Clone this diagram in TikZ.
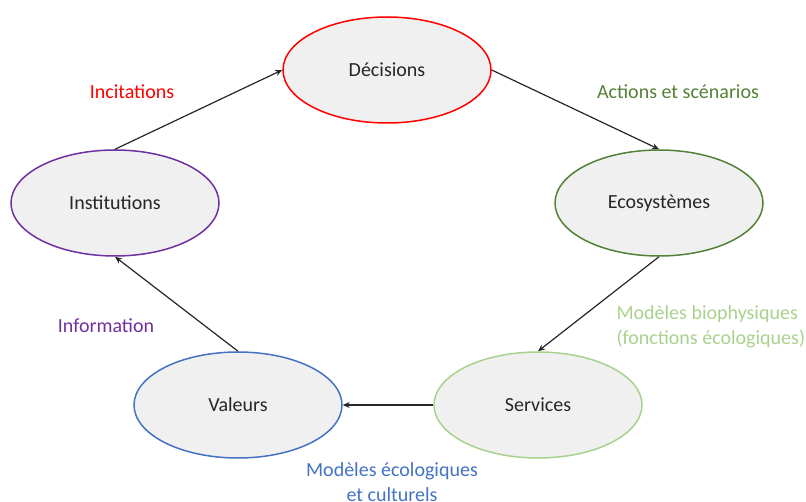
\documentclass[tikz,border=0pt]{standalone}
\usepackage{fontspec}
\setmainfont{Carlito}
\usetikzlibrary{shapes.geometric,arrows.meta}
\definecolor{cred}{HTML}{FF0000}
\definecolor{cpurple}{HTML}{7030A0}
\definecolor{cgreen}{HTML}{538135}
\definecolor{clight}{HTML}{A9D18E}
\definecolor{cblue}{HTML}{4472C4}
\definecolor{cfill}{HTML}{F0F0F0}
\definecolor{carrow}{HTML}{262626}

\begin{document}
\begin{tikzpicture}[x=1pt,y=-1pt]
\tikzstyle{every node}+=[font=\fontsize{20}{25}\selectfont]
\tikzstyle{state}=[ellipse,draw,line width=1.5pt,fill=cfill,minimum width=208pt,minimum height=106pt,inner sep=0pt,text=black!85]
\tikzstyle{flow}=[draw=carrow,line width=1.2pt,-{Stealth[length=7pt,width=6pt]}]
\useasboundingbox (0,0) rectangle (806,502);
% the five states
\node [state,draw=cred] (dec) at (387,70) {Décisions};
\node [state,draw=cpurple] (inst) at (115,203) {Institutions};
\node [state,draw=cgreen] (eco) at (659,203) {Ecosystèmes};
\node [state,draw=cblue] (val) at (238,405) {Valeurs};
\node [state,draw=clight] (serv) at (538,405) {Services};
% the cycle
\draw [flow] (inst.north) -- (dec.west);
\draw [flow] (dec.east) -- (eco.north);
\draw [flow] (eco.south) -- (serv.north);
\draw [flow] (serv.west) -- (val.east);
\draw [flow] (val.north) -- (inst.south);
% labels
\node [text=cred] (incit) at (132,92) {Incitations};
\node [text=cgreen] (act) at (678,92) {Actions et scénarios};
\node [text=clight,align=left,anchor=west] (bio) at (613,327) {Modèles biophysiques\\(fonctions écologiques)};
\node [text=cpurple] (info) at (106,326) {Information};
\node [text=cblue,align=center] (eco2) at (392,482) {Modèles écologiques\\et culturels};
\end{tikzpicture}
\end{document}
